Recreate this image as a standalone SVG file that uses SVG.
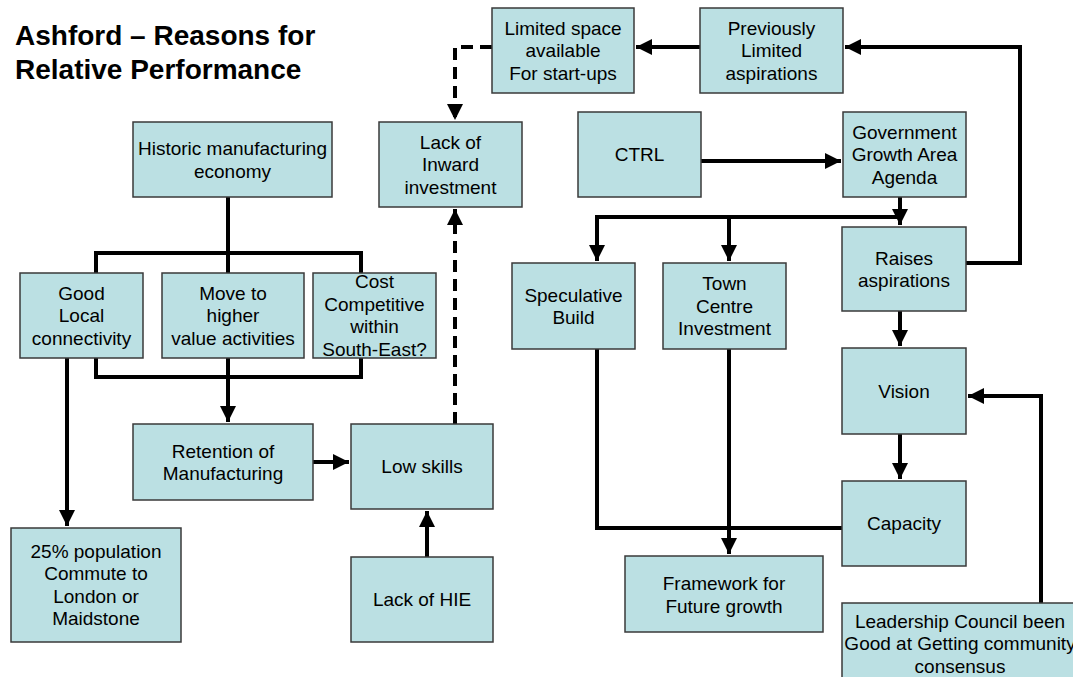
<svg xmlns="http://www.w3.org/2000/svg" width="1073" height="677" viewBox="0 0 1073 677">
<style>
.box{fill:#BBE0E3;stroke:#3a3a3a;stroke-width:1.5}
.t{font-family:"Liberation Sans",Arial,sans-serif;font-size:19px;fill:#000;text-anchor:middle}
.title{font-family:"Liberation Sans",Arial,sans-serif;font-size:28px;font-weight:bold;fill:#000}
.c{stroke:#000;stroke-width:4;fill:none}
.d{stroke-dasharray:12 7}
</style>
<defs>
<marker id="ah" markerUnits="userSpaceOnUse" markerWidth="16" markerHeight="16" viewBox="0 0 16 16" refX="16" refY="8" orient="auto">
<path d="M0,0 L16,8 L0,16 Z" fill="#000"/>
</marker>
</defs>
<rect width="1073" height="677" fill="#fff"/>
<g id="title">
<text class="title" x="15" y="45">Ashford – Reasons for</text>
<text class="title" x="15" y="79">Relative Performance</text>
</g>
<g id="connectors">
<path class="c" d="M700,47 H636" marker-end="url(#ah)"/>
<path class="c d" d="M492,47 H455 V120" marker-end="url(#ah)"/>
<path class="c d" d="M455,424 V209" marker-end="url(#ah)"/>
<path class="c" d="M701,161 H841" marker-end="url(#ah)"/>
<path class="c" d="M900,197 V225" marker-end="url(#ah)"/>
<path class="c" d="M597,261 V217 H900"/>
<path class="c" d="M597,217 V261" marker-end="url(#ah)"/>
<path class="c" d="M729,217 V261" marker-end="url(#ah)"/>
<path class="c" d="M966,263 H1020 V47 H845" marker-end="url(#ah)"/>
<path class="c" d="M900,311 V346" marker-end="url(#ah)"/>
<path class="c" d="M900,434 V479" marker-end="url(#ah)"/>
<path class="c" d="M1041,603 V396 H968" marker-end="url(#ah)"/>
<path class="c" d="M842,528 H597 V349"/>
<path class="c" d="M729,349 V554" marker-end="url(#ah)"/>
<path class="c" d="M228,197 V273"/>
<path class="c" d="M96,273 V253 H361 V273"/>
<path class="c" d="M96,358 V377 H361 V358"/>
<path class="c" d="M228,358 V422" marker-end="url(#ah)"/>
<path class="c" d="M67,358 V526" marker-end="url(#ah)"/>
<path class="c" d="M313,462 H349" marker-end="url(#ah)"/>
<path class="c" d="M427,557 V511" marker-end="url(#ah)"/>
</g>
<g id="limited-space">
<rect class="box" x="492" y="8" width="142" height="85"/>
<text class="t" x="563" y="34.5">Limited space</text>
<text class="t" x="563" y="57">available</text>
<text class="t" x="563" y="79.5">For start-ups</text>
</g>
<g id="previously-limited">
<rect class="box" x="700" y="8" width="143" height="85"/>
<text class="t" x="771.5" y="34.5">Previously</text>
<text class="t" x="771.5" y="57">Limited</text>
<text class="t" x="771.5" y="79.5">aspirations</text>
</g>
<g id="ctrl">
<rect class="box" x="578" y="112" width="123" height="85"/>
<text class="t" x="639.5" y="161">CTRL</text>
</g>
<g id="government">
<rect class="box" x="843" y="112" width="123" height="85"/>
<text class="t" x="904.5" y="138.5">Government</text>
<text class="t" x="904.5" y="161">Growth Area</text>
<text class="t" x="904.5" y="183.5">Agenda</text>
</g>
<g id="lack-inward">
<rect class="box" x="379" y="122" width="143" height="85"/>
<text class="t" x="450.5" y="148.5">Lack of</text>
<text class="t" x="450.5" y="171">Inward</text>
<text class="t" x="450.5" y="193.5">investment</text>
</g>
<g id="historic">
<rect class="box" x="133" y="122" width="199" height="75"/>
<text class="t" x="232.5" y="155">Historic manufacturing</text>
<text class="t" x="232.5" y="177.5">economy</text>
</g>
<g id="good-local">
<rect class="box" x="20" y="273" width="123" height="85"/>
<text class="t" x="81.5" y="299.5">Good</text>
<text class="t" x="81.5" y="322">Local</text>
<text class="t" x="81.5" y="344.5">connectivity</text>
</g>
<g id="move-to">
<rect class="box" x="162" y="273" width="142" height="85"/>
<text class="t" x="233" y="299.5">Move to</text>
<text class="t" x="233" y="322">higher</text>
<text class="t" x="233" y="344.5">value activities</text>
</g>
<g id="cost">
<rect class="box" x="313" y="273" width="123" height="85"/>
<text class="t" x="374.5" y="288.25">Cost</text>
<text class="t" x="374.5" y="310.75">Competitive</text>
<text class="t" x="374.5" y="333.25">within</text>
<text class="t" x="374.5" y="355.75">South-East?</text>
</g>
<g id="retention">
<rect class="box" x="133" y="424" width="180" height="76"/>
<text class="t" x="223" y="457.5">Retention of</text>
<text class="t" x="223" y="480">Manufacturing</text>
</g>
<g id="low-skills">
<rect class="box" x="351" y="424" width="142" height="85"/>
<text class="t" x="422" y="473">Low skills</text>
</g>
<g id="lack-hie">
<rect class="box" x="351" y="557" width="142" height="85"/>
<text class="t" x="422" y="606">Lack of HIE</text>
</g>
<g id="commute">
<rect class="box" x="11" y="528" width="170" height="114"/>
<text class="t" x="96" y="557.75">25% population</text>
<text class="t" x="96" y="580.25">Commute to</text>
<text class="t" x="96" y="602.75">London or</text>
<text class="t" x="96" y="625.25">Maidstone</text>
</g>
<g id="speculative">
<rect class="box" x="512" y="263" width="123" height="86"/>
<text class="t" x="573.5" y="301.5">Speculative</text>
<text class="t" x="573.5" y="324">Build</text>
</g>
<g id="town-centre">
<rect class="box" x="663" y="263" width="123" height="86"/>
<text class="t" x="724.5" y="290">Town</text>
<text class="t" x="724.5" y="312.5">Centre</text>
<text class="t" x="724.5" y="335">Investment</text>
</g>
<g id="raises">
<rect class="box" x="842" y="227" width="124" height="84"/>
<text class="t" x="904" y="264.5">Raises</text>
<text class="t" x="904" y="287">aspirations</text>
</g>
<g id="vision">
<rect class="box" x="842" y="348" width="124" height="86"/>
<text class="t" x="904" y="397.5">Vision</text>
</g>
<g id="capacity">
<rect class="box" x="842" y="481" width="124" height="85"/>
<text class="t" x="904" y="530">Capacity</text>
</g>
<g id="framework">
<rect class="box" x="625" y="556" width="198" height="76"/>
<text class="t" x="724" y="590">Framework for</text>
<text class="t" x="724" y="612.5">Future growth</text>
</g>
<g id="leadership">
<rect class="box" x="842" y="603" width="236" height="82"/>
<text class="t" x="960" y="627.5">Leadership Council been</text>
<text class="t" x="960" y="650">Good at Getting community</text>
<text class="t" x="960" y="672.5">consensus</text>
</g>
</svg>
